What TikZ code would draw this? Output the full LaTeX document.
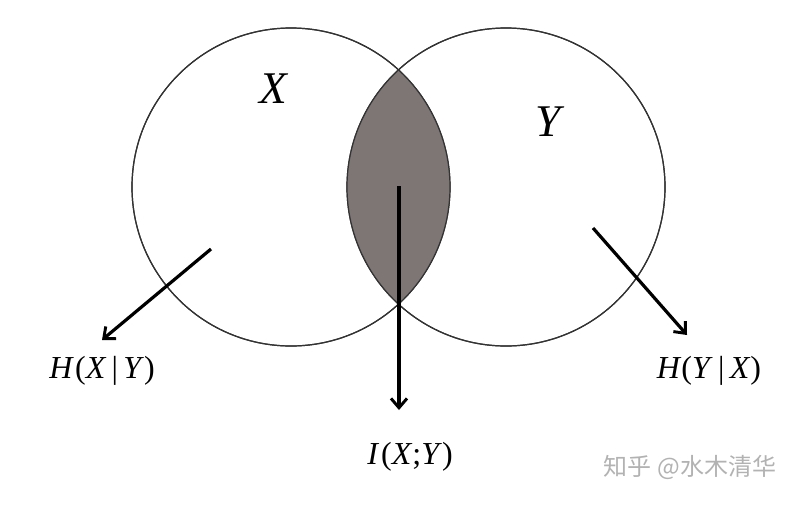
\documentclass[tikz,border=0pt]{standalone}
\usepackage{fontspec}
\setmainfont{Liberation Serif}
\newfontfamily\cjkfont{Noto Sans CJK SC}
\usetikzlibrary{arrows.meta, positioning, calc}

\begin{document}
\begin{tikzpicture}[
    x=0.75pt, y=-0.75pt,
    % --- BASE STYLES ---
    setcircle/.style={circle, draw=black!80, line width=0.9pt, minimum size=238.5pt, inner sep=0pt},
    lens/.style={fill=black!58!red!8!gray},
    pointer/.style={draw=black, line width=2.4pt, -{Straight Barb[length=7pt, width=12pt, line width=2.2pt]}},
    setlabel/.style={font=\fontsize{34}{36}\selectfont\itshape, inner sep=0pt},
    infolabel/.style={font=\fontsize{24}{26}\selectfont, inner sep=0pt},
    watermark/.style={font=\cjkfont\fontsize{18}{20}\selectfont, text=black!30}
]
\useasboundingbox (0,0) rectangle (793,504);

% ==========================================
% TWO SETS AND THEIR OVERLAP
% ==========================================
\node[setcircle] (cx) at (291,187) {};
\node[setcircle] (cy) at (506,187) {};

\begin{scope}
  \clip (cx.center) circle (119.25pt);
  \fill[lens] (cy.center) circle (119.25pt);
\end{scope}
\draw[black!80, line width=0.9pt] (cx.center) circle (119.25pt);
\draw[black!80, line width=0.9pt] (cy.center) circle (119.25pt);

\node[setlabel] (lx) at (273,89) {X};
\node[setlabel] (ly) at (548,122) {Y};

% ==========================================
% LABELS AND POINTERS
% ==========================================
\node[infolabel] (hxy) at (102,371) {\textit{H}\kern1pt(\textit{X}\,|\,\textit{Y})};
\node[infolabel] (ixy) at (410,457) {\textit{I}\kern1.5pt(\textit{X};\textit{Y})};
\node[infolabel] (hyx) at (709,371) {\textit{H}(\textit{Y}\,|\,\textit{X})};

\coordinate (px) at (211,249);
\coordinate (pi) at (399,186);
\coordinate (py) at (593,228);
\coordinate (tx) at (102,340);
\coordinate (ti) at (399,410);
\coordinate (ty) at (687,335);

\draw[pointer] (px) -- (tx);
\draw[pointer] (pi) -- (ti);
\draw[pointer] (py) -- (ty);

% watermark
\node[watermark] (wm) at (690,467) {知乎 @水木清华};

\end{tikzpicture}
\end{document}
